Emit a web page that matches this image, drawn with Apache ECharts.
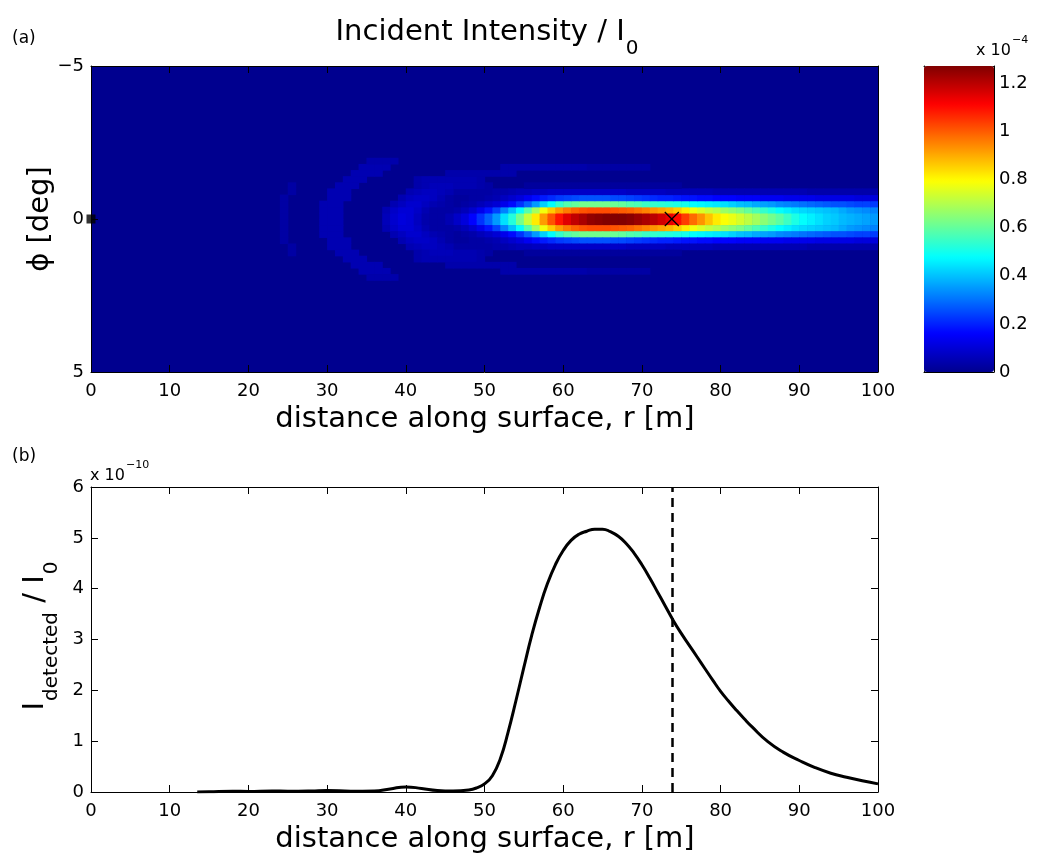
<!DOCTYPE html>
<html>
<head>
<meta charset="utf-8">
<title>Incident Intensity / I0</title>
<script src="https://cdn.jsdelivr.net/npm/echarts@6/dist/echarts.min.js"></script>
<style>
html, body { margin: 0; padding: 0; background: #fff; }
#chart { width: 1052px; height: 862px; }
</style>
</head>
<body>
<div id="chart"></div>
<script>
var FONT = 'DejaVu Sans';

// ---- panel (a) : incident intensity map ----
// cells are 1 m wide in r and 0.2 deg tall in phi, values in units of 1e-6
// rows are given for the upper half (|phi| from 0.2k to 0.2(k+1)) and mirrored
var beamStart = 46;
var beamRow0 = [8, 11, 16, 22, 28, 35, 44, 52, 62, 72,
    82, 92, 101, 109, 115, 119, 122, 125, 126, 127,
    127, 127, 126, 124, 122, 120, 117, 114, 110, 104,
    98, 93, 87, 82, 79, 77, 74, 71, 68, 65,
    62, 59, 55, 51, 48, 46, 44, 42, 41, 39,
    38, 37, 36, 35];
var beamRow1 = [4, 6, 9, 13, 18, 24, 32, 40, 48, 58,
    68, 78, 86, 92, 96, 99, 101, 102, 102, 102,
    101, 100, 99, 97, 95, 93, 91, 89, 86, 82,
    78, 75, 72, 70, 67, 65, 63, 60, 57, 54,
    51, 48, 46, 44, 43, 42, 41, 40, 39, 37,
    35, 34, 33, 32];
var beamRow2 = [2, 3, 4, 6, 8, 10, 13, 17, 22, 28,
    35, 42, 48, 54, 58, 60, 62, 62, 62, 62,
    61, 60, 58, 57, 55, 54, 53, 52, 51, 50,
    48, 47, 46, 45, 44, 42, 40, 39, 37, 36,
    35, 33, 32, 31, 30, 29, 28, 27, 26, 26,
    25, 24, 24, 23];
var beamRow3 = [2, 2, 3, 3, 4, 5, 7, 9, 11, 14,
    17, 19, 21, 23, 24, 25, 26, 26, 26, 26,
    25, 25, 24, 23, 22, 21, 20, 20, 19, 18,
    18, 17, 17, 16, 16, 16, 15, 15, 15, 14,
    14, 14, 13, 13, 13, 13, 12, 12, 12, 12,
    12, 11, 11, 11];
var beamRow4 = [3, 3, 3, 3, 3, 4, 4, 5, 6, 6,
    7, 7, 8, 8, 8, 8, 8, 8, 8, 8,
    8, 8, 7, 7, 7, 7, 7, 6, 6, 6,
    6, 6, 6, 5, 5, 5, 5, 5, 5, 5,
    5, 5, 5, 5, 5, 4, 4, 4, 4, 4,
    4, 4, 4, 4];

// faint fringes in front of the beam: [row k, first column, values]
var fringeRows = [
    [0, 24, [3]], [1, 24, [3]], [2, 24, [3]], [3, 24, [3]], [4, 25, [3]], [5, 25, [3]],
    [0, 29, [5, 5, 5]], [1, 29, [5, 5, 5]], [2, 29, [5, 5, 5]], [3, 30, [5, 5, 5]],
    [4, 30, [5, 5, 5]], [5, 31, [5, 5, 5]], [6, 32, [5, 5, 5]], [7, 33, [5, 5, 5, 5]],
    [8, 34, [5, 5, 5, 5]], [9, 35, [4, 4, 4, 4]],
    [0, 37, [6, 9, 11, 10, 7, 4, 3, 3, 5]],
    [1, 37, [5, 8, 10, 10, 8, 5, 3, 3, 3]],
    [2, 38, [5, 7, 9, 9, 7, 5, 4, 3]],
    [3, 39, [5, 7, 8, 8, 7, 5, 3]],
    [4, 40, [5, 6, 7, 7, 6, 5]],
    [5, 41, [4, 5, 6, 6, 6, 5, 5, 5, 4, 3]],
    [6, 41, [4, 5, 5, 5, 5, 5, 5, 5, 4]],
    [7, 45, [4, 4, 4, 4, 4, 4, 4, 4, 4]],
    [8, 52, [4, 4, 4, 4, 4, 4, 4, 4, 4, 4, 4, 3, 3, 3, 3, 3, 3, 3, 3]],
    [5, 55, [2, 2, 2, 2, 2, 2, 2, 2, 2, 2, 2, 2, 2, 2, 2, 2, 2, 2, 2, 2]]
];

var cMax = 127.2;          // colour bar top, 1.272e-4
var cbarMax = 1.272;       // same, in units of 1e-4
var jetColors = ['#00008F', '#0000FF', '#0080FF', '#00FFFF', '#80FF80',
    '#FFFF00', '#FF8000', '#FF0000', '#800000'];

var sourcePoint = [[0, 0]];
var detectorPoint = [[73.8, 0]];

// ---- panel (b) : detected intensity, units of 1e-10 ----
var rDetected = [13.5, 15, 18, 20, 23, 25, 28, 30, 33, 36,
    38, 40, 42, 44, 46, 48, 49, 50, 51, 52,
    53, 54, 55, 56, 57, 58, 59, 60, 61, 62,
    63, 64, 65, 66, 67, 68, 69, 70, 71, 72,
    73, 74, 75, 76, 77, 78, 79, 80, 81, 82,
    83, 84, 86, 88, 90, 92, 94, 96, 98, 100];
var iDetected = [0.0, 0.005, 0.015, 0.01, 0.02, 0.015, 0.02, 0.03, 0.015, 0.02,
    0.06, 0.1, 0.07, 0.03, 0.02, 0.04, 0.08, 0.16, 0.32, 0.65,
    1.18, 1.8, 2.45, 3.08, 3.63, 4.1, 4.47, 4.75, 4.95, 5.07,
    5.13, 5.17, 5.17, 5.12, 5.03, 4.89, 4.7, 4.47, 4.21, 3.93,
    3.65, 3.37, 3.12, 2.89, 2.66, 2.43, 2.2, 1.98, 1.79, 1.61,
    1.44, 1.28, 0.99, 0.78, 0.62, 0.48, 0.37, 0.29, 0.22, 0.16];

//组装热力图单元格
var cells = [];
function addRow(k, c0, vals) {
    for (var i = 0; i < vals.length; i++) {
        var c = c0 + i;
        cells.push([c, c + 1, k * 0.2, (k + 1) * 0.2, vals[i]]);
        cells.push([c, c + 1, -(k + 1) * 0.2, -k * 0.2, vals[i]]);
    }
}
[beamRow0, beamRow1, beamRow2, beamRow3, beamRow4].forEach(function (row, k) {
    addRow(k, beamStart, row);
});
fringeRows.forEach(function (f) {
    addRow(f[0], f[1], f[2]);
});

var linePoints = rDetected.map(function (r, i) { return [r, iDetected[i]]; });

function renderCell(params, api) {
    var a = api.coord([api.value(0), api.value(2)]);
    var b = api.coord([api.value(1), api.value(3)]);
    return {
        type: 'rect',
        shape: {
            x: Math.min(a[0], b[0]),
            y: Math.min(a[1], b[1]),
            width: Math.abs(b[0] - a[0]) + 0.6,
            height: Math.abs(b[1] - a[1]) + 0.6
        },
        style: { fill: api.visual('color') }
    };
}

function renderCross(params, api) {
    var p = api.coord([api.value(0), api.value(1)]);
    var s = 7;
    var st = { stroke: '#000', lineWidth: 1.3 };
    return {
        type: 'group',
        children: [
            { type: 'line', shape: { x1: p[0] - s, y1: p[1] - s, x2: p[0] + s, y2: p[1] + s }, style: st },
            { type: 'line', shape: { x1: p[0] - s, y1: p[1] + s, x2: p[0] + s, y2: p[1] - s }, style: st }
        ]
    };
}

var tickLabel = { show: true, color: '#000', fontFamily: FONT, fontSize: 18, margin: 10 };

function baseAxis(o) {
    return Object.assign({
        type: 'value',
        axisLine: { show: true, onZero: false, lineStyle: { color: '#000', width: 1 } },
        axisTick: { show: true, inside: true, length: 7, lineStyle: { color: '#000', width: 1 } },
        axisLabel: { show: false },
        splitLine: { show: false }
    }, o);
}

function minusFmt(v) {
    return v < 0 ? '\u2212' + (-v) : String(v);
}

var richSub = {
    m: { fontSize: 29, fontFamily: FONT, lineHeight: 30, verticalAlign: 'top', fill: '#000' },
    s: { fontSize: 20, fontFamily: FONT, lineHeight: 20, verticalAlign: 'top', padding: [21, 0, 0, 1], fill: '#000' }
};
var richSup = {
    m: { fontSize: 16, fontFamily: FONT, lineHeight: 16, verticalAlign: 'top', padding: [8, 0, 0, 0], fill: '#000' },
    p: { fontSize: 11, fontFamily: FONT, lineHeight: 11, verticalAlign: 'top', padding: [0, 0, 0, 1], fill: '#000' }
};

var chart = echarts.init(document.getElementById('chart'));

var option = {
    animation: false,
    backgroundColor: '#fff',
    grid: [
        { left: 91, top: 66, width: 787, height: 306, show: true, backgroundColor: '#00008F', borderWidth: 0 },
        { left: 924, top: 66, width: 70, height: 306 },
        { left: 91, top: 487, width: 787, height: 305 }
    ],
    xAxis: [
        baseAxis({ gridIndex: 0, position: 'bottom', min: 0, max: 100, interval: 10, axisLabel: tickLabel }),
        baseAxis({ gridIndex: 0, position: 'top', min: 0, max: 100, interval: 10 }),
        baseAxis({ gridIndex: 1, position: 'bottom', min: 0, max: 1, axisTick: { show: false } }),
        baseAxis({ gridIndex: 1, position: 'top', min: 0, max: 1, axisTick: { show: false } }),
        baseAxis({ gridIndex: 2, position: 'bottom', min: 0, max: 100, interval: 10, axisLabel: tickLabel }),
        baseAxis({ gridIndex: 2, position: 'top', min: 0, max: 100, interval: 10 })
    ],
    yAxis: [
        baseAxis({ gridIndex: 0, position: 'left', inverse: true, min: -5, max: 5, interval: 5,
            axisLabel: Object.assign({}, tickLabel, { margin: 7, formatter: minusFmt }) }),
        baseAxis({ gridIndex: 0, position: 'right', inverse: true, min: -5, max: 5, interval: 5 }),
        baseAxis({ gridIndex: 1, position: 'left', min: 0, max: cbarMax, interval: 0.2 }),
        baseAxis({ gridIndex: 1, position: 'right', min: 0, max: cbarMax, interval: 0.2,
            axisLabel: Object.assign({}, tickLabel, { margin: 5, showMaxLabel: false,
                formatter: function (v) { return String(Math.round(v * 10) / 10); } }) }),
        baseAxis({ gridIndex: 2, position: 'left', min: 0, max: 6, interval: 1,
            axisLabel: Object.assign({}, tickLabel, { margin: 7 }) }),
        baseAxis({ gridIndex: 2, position: 'right', min: 0, max: 6, interval: 1 })
    ],
    visualMap: {
        type: 'continuous',
        seriesIndex: 0,
        dimension: 4,
        min: 0,
        max: cMax,
        inRange: { color: jetColors },
        calculable: false,
        hoverLink: false,
        left: 924,
        top: 66,
        itemWidth: 70,
        itemHeight: 306,
        padding: 0,
        text: null
    },
    series: [
        {
            type: 'custom',
            name: 'intensity',
            xAxisIndex: 0,
            yAxisIndex: 0,
            renderItem: renderCell,
            encode: { x: [0, 1], y: [2, 3] },
            data: cells,
            clip: true,
            silent: true
        },
        {
            type: 'scatter',
            name: 'source',
            xAxisIndex: 0,
            yAxisIndex: 0,
            data: sourcePoint,
            symbol: 'rect',
            symbolSize: 9,
            itemStyle: { color: '#000' },
            clip: false,
            silent: true,
            z: 5
        },
        {
            type: 'custom',
            name: 'detector',
            xAxisIndex: 0,
            yAxisIndex: 0,
            renderItem: renderCross,
            data: detectorPoint,
            silent: true,
            z: 5
        },
        {
            type: 'line',
            name: 'detected',
            xAxisIndex: 4,
            yAxisIndex: 4,
            data: linePoints,
            showSymbol: false,
            symbol: 'none',
            smooth: 0.5,
            lineStyle: { color: '#000', width: 3 },
            itemStyle: { color: '#000' },
            silent: true,
            markLine: {
                silent: true,
                symbol: ['none', 'none'],
                label: { show: false },
                lineStyle: { color: '#000', width: 2.5, type: [9, 6] },
                data: [{ xAxis: detectorPoint[0][0] }]
            }
        }
    ],
    graphic: [
        { type: 'text', x: 12, y: 39, style: { text: '(a)', fontSize: 17, fontFamily: FONT, fill: '#000', align: 'left', verticalAlign: 'middle' } },
        { type: 'text', x: 487, y: 32.5, style: { text: '{m|Incident Intensity / I}{s|0}', align: 'center', verticalAlign: 'middle', fill: '#000', rich: richSub } },
        { type: 'text', x: 976, y: 42.5, style: { text: '{m|x 10}{p|\u22124}', align: 'left', verticalAlign: 'middle', fill: '#000', rich: richSup } },
        { type: 'text', x: 40, y: 219, rotation: Math.PI / 2, style: { text: '\u03D5 [deg]', fontSize: 29, fontFamily: FONT, fill: '#000', align: 'center', verticalAlign: 'middle' } },
        { type: 'text', x: 485, y: 419, style: { text: 'distance along surface, r [m]', fontSize: 29, fontFamily: FONT, fill: '#000', align: 'center', verticalAlign: 'middle' } },
        { type: 'text', x: 12, y: 457, style: { text: '(b)', fontSize: 17, fontFamily: FONT, fill: '#000', align: 'left', verticalAlign: 'middle' } },
        { type: 'text', x: 90, y: 467.5, style: { text: '{m|x 10}{p|\u221210}', align: 'left', verticalAlign: 'middle', fill: '#000', rich: richSup } },
        { type: 'text', x: 35.5, y: 636, rotation: Math.PI / 2, style: { text: '{m|I}{s|detected}{m| / I}{s|0}', align: 'center', verticalAlign: 'middle', fill: '#000', rich: richSub } },
        { type: 'text', x: 485, y: 839, style: { text: 'distance along surface, r [m]', fontSize: 29, fontFamily: FONT, fill: '#000', align: 'center', verticalAlign: 'middle' } }
    ]
};

chart.setOption(option);
</script>
</body>
</html>
